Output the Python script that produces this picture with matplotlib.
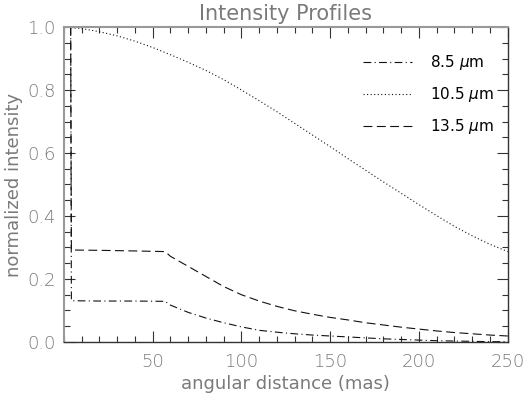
import matplotlib
matplotlib.use("Agg")
import matplotlib.pyplot as plt
from matplotlib.ticker import MultipleLocator

# angular distance (mas) and normalized intensity
dist_10 = [0, 10, 20, 30, 40, 50, 60, 70, 80, 90, 100, 110, 120, 130, 140,
           150, 160, 170, 180, 190, 200, 210, 220, 230, 240, 250]
prof_10 = [1.000, 0.995, 0.985, 0.972, 0.955, 0.935, 0.912, 0.888, 0.862,
           0.833, 0.800, 0.766, 0.731, 0.694, 0.657, 0.620, 0.582, 0.545,
           0.508, 0.472, 0.436, 0.401, 0.367, 0.337, 0.310, 0.287]

dist_ext = [3.8, 4.2, 20, 40, 57, 60, 70, 80, 90, 100, 110, 120, 130, 140,
            150, 160, 170, 180, 190, 200, 210, 220, 230, 240, 250]
prof_8 = [1.000, 0.131, 0.130, 0.130, 0.129, 0.117, 0.094, 0.076, 0.061,
          0.048, 0.037, 0.031, 0.026, 0.022, 0.019, 0.016, 0.013, 0.010,
          0.008, 0.006, 0.004, 0.003, 0.002, 0.001, 0.001]
prof_13 = [1.000, 0.292, 0.291, 0.289, 0.287, 0.272, 0.240, 0.208, 0.176,
           0.150, 0.130, 0.113, 0.099, 0.088, 0.078, 0.070, 0.061, 0.054,
           0.047, 0.041, 0.035, 0.030, 0.026, 0.022, 0.019]

labels = [r"8.5 $\mu$m", r"10.5 $\mu$m", r"13.5 $\mu$m"]

txt = "#7a7a7a"
plt.rcParams["font.family"] = ["DejaVu Sans"]
plt.rcParams["font.weight"] = "light"
plt.rcParams["mathtext.fontset"] = "dejavusans"

fig = plt.figure(figsize=(5.24, 3.96), dpi=100)
ax = fig.add_axes([0.122, 0.1364, 0.847, 0.7954])

ax.plot(dist_ext, prof_8, color="#111111", lw=0.8, dashes=(7, 3, 1, 3), label=labels[0])
ax.plot(dist_10, prof_10, color="#111111", lw=0.8, dashes=(1, 2.2), label=labels[1])
ax.plot(dist_ext, prof_13, color="#111111", lw=0.8, dashes=(8, 4), label=labels[2])

ax.set_xlim(0, 250)
ax.set_ylim(0, 1.0)
ax.xaxis.set_major_locator(MultipleLocator(50))
ax.xaxis.set_minor_locator(MultipleLocator(10))
ax.yaxis.set_major_locator(MultipleLocator(0.2))
ax.yaxis.set_minor_locator(MultipleLocator(0.05))
ax.set_xticks([50, 100, 150, 200, 250])
ax.set_yticks([0.0, 0.2, 0.4, 0.6, 0.8, 1.0])
ax.set_yticklabels(["0.0", "0.2", "0.4", "0.6", "0.8", "1.0"])

ax.tick_params(which="both", direction="in", top=True, right=True,
               labelsize=13, labelcolor=txt, color="#333333", width=0.8)
ax.tick_params(which="major", length=8, pad=8)
ax.tick_params(axis="y", which="major", pad=6)
ax.tick_params(which="minor", length=4)

for side in ["left", "top"]:
    ax.spines[side].set_color("#999999")
    ax.spines[side].set_linewidth(1.5)
for side in ["bottom", "right"]:
    ax.spines[side].set_color("#333333")
    ax.spines[side].set_linewidth(1.0)

ax.set_title("Intensity Profiles", fontsize=15, color=txt, pad=5)
ax.set_xlabel("angular distance (mas)", fontsize=13, color=txt, labelpad=3)
ax.set_ylabel("normalized intensity", fontsize=13, color=txt, labelpad=3)

ax.legend(loc="upper right", bbox_to_anchor=(1.0, 0.96), frameon=False,
          handlelength=3.2, handletextpad=1.2, labelspacing=0.85,
          prop={"size": 11, "weight": "normal"})

fig.savefig("out.png", dpi=100)
